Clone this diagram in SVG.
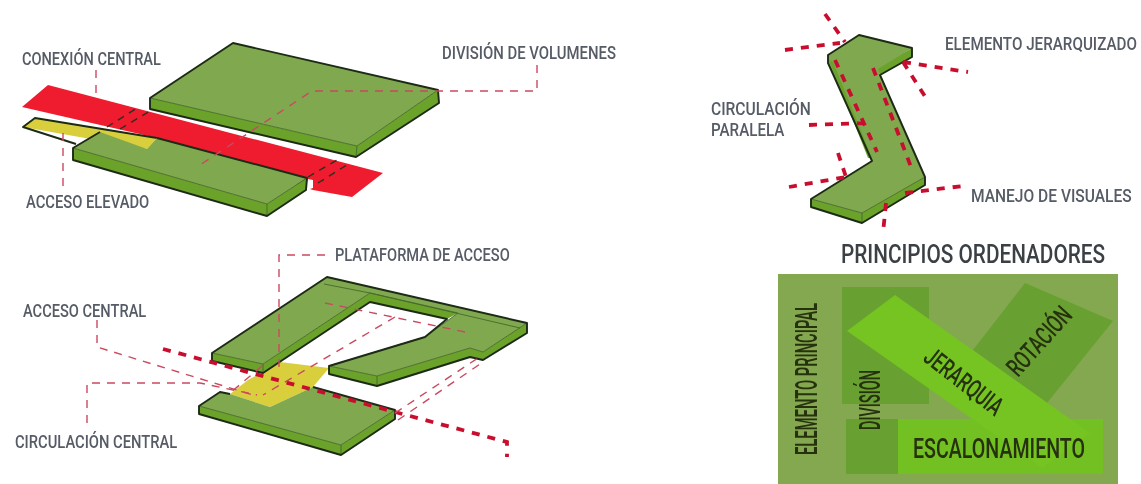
<svg xmlns="http://www.w3.org/2000/svg" width="1141" height="484" viewBox="0 0 1141 484">
<style>
text{font-family:"Roboto","Liberation Sans",sans-serif;font-weight:500;}
.lb{fill:#555b66;font-size:19px;}
.dk{fill:#26300f;}
.top{fill:#7fa84f;}
.side{fill:#6aa22c;}
.edge{fill:none;stroke:#1c2a14;stroke-width:1.9;stroke-linejoin:round;}
.inner{fill:none;stroke:#47682a;stroke-width:0.9;}
.yel{fill:#d9cf3c;}
.thin{fill:none;stroke:#c94a60;stroke-width:1.4;stroke-dasharray:8 7;}
.blk{fill:none;stroke:#2a3020;stroke-width:1.4;stroke-dasharray:7 6;}
.thick{fill:none;stroke:#c8102e;stroke-width:3.8;stroke-dasharray:8 8;}
</style>
<defs><filter id="soft" x="-5%" y="-5%" width="110%" height="110%"><feGaussianBlur stdDeviation="0.35"/></filter></defs>
<rect width="1141" height="484" fill="#ffffff"/>
<g filter="url(#soft)">
<g id="panel-volumes">
<polygon id="band" points="48,85 383,173 352,197 313,190 157,138 22,107" fill="#ee1c2e"/>
<g id="slab-upper">
<polygon class="side" points="150,98 357,146 438,90 439,103 356,157 150,109"/>
<polygon class="top" points="233,43 438,90 357,146 150,98"/>
<polyline class="inner" points="150,98 357,146 438,90"/>
<line class="inner" x1="357" y1="146" x2="356" y2="157"/>
<polygon class="edge" points="150,98 233,43 438,90 439,103 356,157 150,109"/>
</g>
<g id="acceso-elevado">
<polygon class="yel" points="35,118 157,138 147,149 23,127"/>
<polyline class="edge" points="76,144 23,127 35,118 157,138"/>
</g>
<g id="slab-lower">
<polygon class="side" points="73,148 267,204 307,178 306,190 267,216 73,160"/>
<polygon class="top" points="73,148 100,132 147,149 157,138 307,178 267,204"/>
<polyline class="inner" points="73,148 267,204 307,178"/>
<line class="inner" x1="267" y1="204" x2="267" y2="216"/>
<polyline class="edge" points="100,132 73,148 73,160 267,216 306,190 307,178 157,138"/>
<polygon points="308,179 313,180 313,188 307,190" fill="#ffffff"/>
</g>
</g>
<g id="panel-plataforma">
<polygon id="yellow-platform" class="yel" points="230,394 248,380 280,362 329,368 313,387 270,407"/>
<g id="slab-front">
<polygon class="side" points="199,406 341,445 395,410 395,419 341,455 199,414"/>
<polygon class="top" points="220,392 230,394 270,407 313,387 395,410 341,445 199,406"/>
<polyline class="inner" points="199,406 341,445 395,410"/>
<line class="inner" x1="341" y1="445" x2="341" y2="455"/>
<polyline class="edge" points="230,394 220,392 199,406 199,414 341,455 395,419 395,410 313,387"/>
</g>
<g id="u-shape">
<polygon class="side" points="212,353 263,364 370,293 370,302 263,373 212,361"/>
<polygon class="side" points="370,293 458,313 447,319 370,302"/>
<polygon class="side" points="329,366 377,376 470,348 483,352 527,323 527,333 483,360 470,357 377,386 329,374"/>
<polygon class="top" points="327,277 527,323 483,352 470,348 377,376 329,366 425,337 458,313 370,293 263,364 212,353"/>
<polyline class="inner" points="212,353 263,364 370,293 458,313 425,337 329,366 377,376 470,348 483,352 527,323"/>
<polyline class="inner" points="324,284 370,293 520,328"/>
<line class="inner" x1="263" y1="364" x2="263" y2="373"/>
<line class="inner" x1="377" y1="376" x2="377" y2="386"/>
<polygon class="edge" points="212,353 327,277 527,323 527,333 483,360 470,357 377,386 329,374 329,366 425,337 447,319 370,302 263,373 212,361"/>
</g>
</g>
<g id="panel-jerarquizado">
<polygon class="side" points="912,48 912,57 880,75 875,69"/>
<polygon class="side" points="925,177 925,185 862,223 811,207 811,199 862,213"/>
<polygon class="top" points="859,35 912,48 878,69 925,177 862,213 811,199 872,161 828,63 828,55"/>
<polygon class="side" points="829,60 833,62 872,158 868,158"/>
<polyline class="inner" points="811,199 862,213 925,177"/>
<line class="inner" x1="862" y1="213" x2="862" y2="223"/>
<polygon class="edge" points="859,35 912,48 912,57 880,75 925,177 925,185 862,223 811,207 811,199 872,161 828,63 828,55"/>
</g>
<g id="panel-principios">
<rect x="778" y="274" width="340" height="210" fill="#84a850"/>
<rect x="842" y="287" width="87" height="117" fill="#68a030"/>
<rect x="846" y="419" width="52" height="55" fill="#68a030"/>
<polygon points="1025,283 1113,321 1047,403 973,350" fill="#68a030"/>
<rect x="898" y="419" width="205" height="55" fill="#72c020"/>
<polygon points="895,295 847,331 1042,468 1090,433" fill="#74c424"/>
</g>
<g id="connectors">
<path class="thin" d="M96,70V93"/>
<path class="thin" d="M537,65V91H312L197,167"/>
<path class="thin" d="M63,133V187"/>
<path class="blk" d="M107,127L137,108M120,129L150,111M308,177L337,160M318,183L350,163"/>
<path class="thick" d="M163,349L395,412L507,442V457"/>
<path class="thin" d="M97,320V347L253,395"/>
<path class="thin" d="M87,423V383H200L257,395"/>
<path class="thin" d="M325,255H279V372"/>
<path class="thin" d="M325,303L470,333"/>
<path class="thin" d="M395,317L263,395"/>
<path class="thin" d="M395,413L478,358M398,420L483,362"/>
<path class="thin" d="M262,366L230,393"/>
<path class="thick" d="M825,14L845,42M785,50L840,43M835,60L877,152M873,68L913,172M903,62L968,72M903,62L928,101M809,125L865,123M838,153L846,177M789,187L846,177M905,193L963,186M886,203L883,233"/>
</g>
<g id="labels">
<text class="lb" transform="translate(22,65) scale(.78,1)" textLength="178" lengthAdjust="spacingAndGlyphs">CONEXIÓN CENTRAL</text>
<text class="lb" transform="translate(442,59) scale(.78,1)" textLength="223" lengthAdjust="spacingAndGlyphs">DIVISIÓN DE VOLUMENES</text>
<text class="lb" transform="translate(26,208) scale(.78,1)" textLength="158" lengthAdjust="spacingAndGlyphs">ACCESO ELEVADO</text>
<text class="lb" transform="translate(23,317) scale(.78,1)" textLength="158" lengthAdjust="spacingAndGlyphs">ACCESO CENTRAL</text>
<text class="lb" transform="translate(15,448) scale(.78,1)" textLength="208" lengthAdjust="spacingAndGlyphs">CIRCULACIÓN CENTRAL</text>
<text class="lb" transform="translate(335,261) scale(.78,1)" textLength="224" lengthAdjust="spacingAndGlyphs">PLATAFORMA DE ACCESO</text>
<text class="lb" transform="translate(945,50) scale(.78,1)" textLength="246" lengthAdjust="spacingAndGlyphs">ELEMENTO JERARQUIZADO</text>
<text class="lb" transform="translate(711,115) scale(.78,1)" textLength="128" lengthAdjust="spacingAndGlyphs">CIRCULACIÓN</text>
<text class="lb" transform="translate(711,136) scale(.78,1)" textLength="94" lengthAdjust="spacingAndGlyphs">PARALELA</text>
<text class="lb" transform="translate(971,202) scale(.78,1)" textLength="206" lengthAdjust="spacingAndGlyphs">MANEJO DE VISUALES</text>
<text transform="translate(841,263) scale(.77,1)" font-size="25" fill="#3a3f44" textLength="343" lengthAdjust="spacingAndGlyphs">PRINCIPIOS ORDENADORES</text>
<text class="dk" font-size="32" transform="translate(817,455) rotate(-90) scale(.5,1)" textLength="304" lengthAdjust="spacingAndGlyphs">ELEMENTO PRINCIPAL</text>
<text class="dk" font-size="30" transform="translate(880,430) rotate(-90) scale(.5,1)" textLength="120" lengthAdjust="spacingAndGlyphs">DIVISIÓN</text>
<text class="dk" font-size="26" transform="translate(922,360) rotate(38) scale(.65,1)" textLength="142" lengthAdjust="spacingAndGlyphs">JERARQUIA</text>
<text class="dk" font-size="26" transform="translate(1018,378) rotate(-48) scale(.65,1)" textLength="128" lengthAdjust="spacingAndGlyphs">ROTACIÓN</text>
<text class="dk" transform="translate(913,458) scale(.72,1)" font-size="27" textLength="239" lengthAdjust="spacingAndGlyphs">ESCALONAMIENTO</text>
</g>
</g>
</svg>
